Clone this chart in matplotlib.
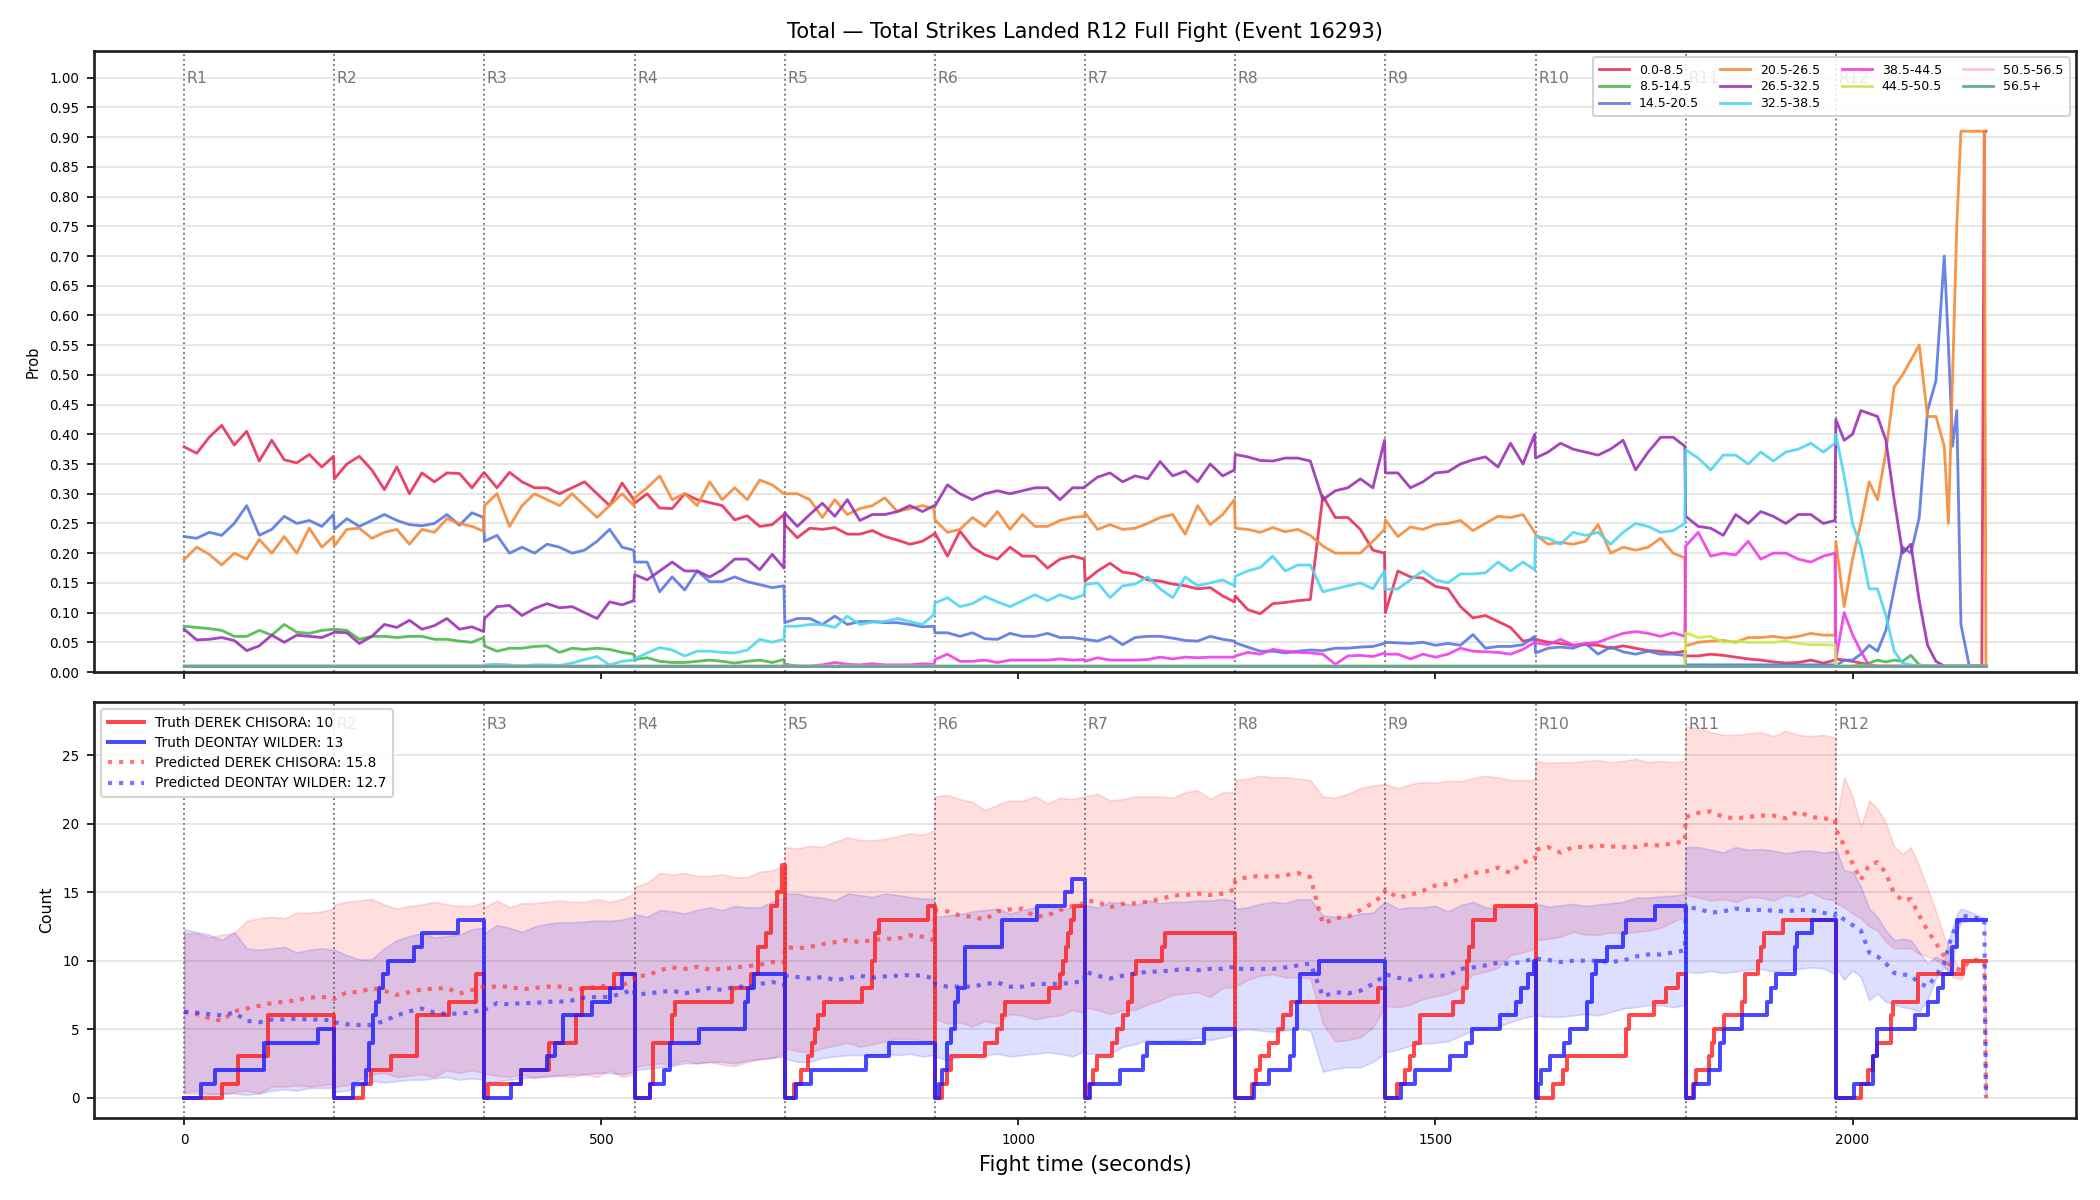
import numpy as np
import matplotlib
matplotlib.use("Agg")
import matplotlib.pyplot as plt
import matplotlib.transforms as mtransforms

# ---------------- time grid ----------------
ROUND_LEN = 180
round_offsets = [0, 15, 30, 45, 60, 75, 90, 105, 120, 135, 150, 165, 179]
r12_times = [1980, 1990, 2000, 2010, 2020, 2030, 2040, 2050, 2060, 2070, 2080, 2090,
             2100, 2110, 2115, 2120, 2125, 2130, 2140, 2150, 2155, 2158, 2160]
FIGHT_END = 2160

# ---------------- top panel: probability per bin (per round lists) ----------------
bin_labels = ["0.0-8.5", "8.5-14.5", "14.5-20.5", "20.5-26.5", "26.5-32.5",
              "32.5-38.5", "38.5-44.5", "44.5-50.5", "50.5-56.5", "56.5+"]
bin_colors = ["#e8305a", "#4cb84c", "#5a78e0", "#f58b3a", "#9b32b8",
              "#4fd6f2", "#f03ee8", "#c4ec50", "#f8c3d6", "#5a9f98"]

p_0_8 = [
    [0.379, 0.368, 0.395, 0.415, 0.382, 0.405, 0.355, 0.39, 0.357, 0.352, 0.366, 0.345, 0.363],
    [0.325, 0.35, 0.363, 0.34, 0.307, 0.345, 0.30, 0.335, 0.32, 0.335, 0.334, 0.31, 0.335],
    [0.335, 0.31, 0.336, 0.32, 0.31, 0.31, 0.30, 0.31, 0.32, 0.30, 0.28, 0.318, 0.29],
    [0.284, 0.30, 0.276, 0.275, 0.30, 0.29, 0.285, 0.28, 0.256, 0.263, 0.245, 0.248, 0.265],
    [0.248, 0.226, 0.242, 0.24, 0.243, 0.232, 0.232, 0.238, 0.228, 0.222, 0.215, 0.22, 0.232],
    [0.234, 0.195, 0.237, 0.21, 0.197, 0.19, 0.21, 0.195, 0.195, 0.175, 0.19, 0.195, 0.19],
    [0.153, 0.17, 0.183, 0.168, 0.165, 0.155, 0.153, 0.148, 0.145, 0.14, 0.142, 0.128, 0.118],
    [0.128, 0.105, 0.098, 0.115, 0.117, 0.12, 0.122, 0.296, 0.26, 0.26, 0.24, 0.205, 0.20],
    [0.10, 0.17, 0.16, 0.158, 0.144, 0.14, 0.11, 0.091, 0.095, 0.085, 0.075, 0.052, 0.055],
    [0.055, 0.05, 0.048, 0.045, 0.046, 0.045, 0.04, 0.044, 0.04, 0.036, 0.035, 0.032, 0.035],
    [0.027, 0.027, 0.03, 0.028, 0.025, 0.022, 0.02, 0.017, 0.015, 0.016, 0.02, 0.015, 0.02],
    [0.022, 0.02, 0.018, 0.015, 0.012, 0.01, 0.01, 0.01, 0.01, 0.01, 0.01, 0.01, 0.01, 0.01,
     0.01, 0.01, 0.01, 0.01, 0.01, 0.01, 0.01, 0.91, 0.91],
]
p_8_14 = [
    [0.077, 0.075, 0.073, 0.07, 0.06, 0.06, 0.07, 0.062, 0.08, 0.067, 0.065, 0.07, 0.072],
    [0.072, 0.07, 0.055, 0.06, 0.06, 0.058, 0.06, 0.06, 0.055, 0.055, 0.052, 0.05, 0.058],
    [0.044, 0.035, 0.04, 0.04, 0.043, 0.044, 0.033, 0.04, 0.038, 0.04, 0.038, 0.033, 0.03],
    [0.021, 0.024, 0.018, 0.016, 0.016, 0.018, 0.02, 0.018, 0.015, 0.018, 0.02, 0.016, 0.021],
    [0.013, 0.01, 0.01, 0.01, 0.01, 0.01, 0.01, 0.01, 0.01, 0.01, 0.01, 0.01, 0.01],
    [0.01] * 13, [0.01] * 13, [0.01] * 13, [0.01] * 13, [0.01] * 13, [0.01] * 13,
    [0.01, 0.01, 0.01, 0.012, 0.015, 0.02, 0.017, 0.02, 0.018, 0.028, 0.012, 0.01, 0.01,
     0.01, 0.01, 0.01, 0.01, 0.01, 0.01, 0.01, 0.01, 0.01, 0.01],
]
p_14_20 = [
    [0.228, 0.225, 0.235, 0.23, 0.25, 0.28, 0.23, 0.24, 0.262, 0.25, 0.255, 0.245, 0.265],
    [0.24, 0.258, 0.245, 0.255, 0.265, 0.255, 0.248, 0.246, 0.25, 0.265, 0.247, 0.268, 0.26],
    [0.22, 0.23, 0.20, 0.21, 0.20, 0.215, 0.21, 0.20, 0.205, 0.22, 0.24, 0.21, 0.205],
    [0.185, 0.185, 0.135, 0.16, 0.138, 0.17, 0.152, 0.152, 0.16, 0.152, 0.147, 0.142, 0.145],
    [0.083, 0.09, 0.09, 0.08, 0.094, 0.08, 0.085, 0.085, 0.083, 0.083, 0.08, 0.076, 0.077],
    [0.066, 0.066, 0.06, 0.066, 0.056, 0.055, 0.065, 0.06, 0.06, 0.065, 0.058, 0.058, 0.055],
    [0.055, 0.052, 0.06, 0.046, 0.058, 0.06, 0.06, 0.057, 0.053, 0.052, 0.06, 0.055, 0.052],
    [0.049, 0.042, 0.035, 0.035, 0.032, 0.035, 0.037, 0.036, 0.04, 0.04, 0.042, 0.043, 0.048],
    [0.05, 0.049, 0.048, 0.05, 0.045, 0.048, 0.045, 0.063, 0.04, 0.043, 0.043, 0.046, 0.06],
    [0.032, 0.04, 0.042, 0.04, 0.048, 0.03, 0.042, 0.034, 0.03, 0.035, 0.03, 0.03, 0.028],
    [0.012] * 13,
    [0.01, 0.02, 0.02, 0.03, 0.045, 0.035, 0.07, 0.14, 0.21, 0.20, 0.26, 0.44, 0.49, 0.70,
     0.55, 0.38, 0.44, 0.08, 0.01, 0.01, 0.01, 0.01, 0.01],
]
p_20_26 = [
    [0.189, 0.21, 0.198, 0.18, 0.2, 0.19, 0.223, 0.20, 0.228, 0.20, 0.242, 0.21, 0.228],
    [0.212, 0.24, 0.242, 0.225, 0.235, 0.24, 0.215, 0.24, 0.235, 0.258, 0.25, 0.245, 0.237],
    [0.28, 0.30, 0.245, 0.28, 0.30, 0.29, 0.28, 0.30, 0.28, 0.26, 0.28, 0.30, 0.28],
    [0.293, 0.31, 0.33, 0.29, 0.30, 0.28, 0.32, 0.29, 0.31, 0.29, 0.323, 0.315, 0.30],
    [0.30, 0.30, 0.29, 0.26, 0.29, 0.265, 0.275, 0.28, 0.293, 0.27, 0.275, 0.28, 0.275],
    [0.256, 0.235, 0.24, 0.26, 0.245, 0.27, 0.24, 0.265, 0.245, 0.245, 0.255, 0.26, 0.262],
    [0.268, 0.24, 0.248, 0.24, 0.242, 0.25, 0.26, 0.265, 0.232, 0.28, 0.248, 0.265, 0.29],
    [0.242, 0.24, 0.235, 0.243, 0.236, 0.24, 0.23, 0.212, 0.20, 0.20, 0.20, 0.22, 0.24],
    [0.256, 0.228, 0.244, 0.24, 0.248, 0.25, 0.255, 0.238, 0.25, 0.262, 0.26, 0.265, 0.235],
    [0.231, 0.215, 0.218, 0.215, 0.22, 0.248, 0.2, 0.21, 0.205, 0.21, 0.225, 0.2, 0.192],
    [0.044, 0.05, 0.052, 0.053, 0.05, 0.058, 0.058, 0.06, 0.057, 0.06, 0.065, 0.062, 0.062],
    [0.22, 0.11, 0.19, 0.25, 0.32, 0.29, 0.37, 0.48, 0.50, 0.525, 0.55, 0.43, 0.43, 0.38,
     0.25, 0.50, 0.75, 0.91, 0.91, 0.91, 0.91, 0.91, 0.01],
]
p_26_32 = [
    [0.072, 0.054, 0.055, 0.058, 0.053, 0.036, 0.044, 0.062, 0.05, 0.062, 0.06, 0.058, 0.066],
    [0.067, 0.066, 0.048, 0.06, 0.08, 0.075, 0.087, 0.072, 0.078, 0.09, 0.072, 0.076, 0.068],
    [0.09, 0.11, 0.112, 0.095, 0.107, 0.115, 0.108, 0.11, 0.10, 0.09, 0.118, 0.113, 0.12],
    [0.164, 0.155, 0.17, 0.185, 0.17, 0.17, 0.16, 0.172, 0.19, 0.19, 0.172, 0.198, 0.175],
    [0.268, 0.245, 0.265, 0.284, 0.262, 0.29, 0.255, 0.265, 0.265, 0.27, 0.28, 0.27, 0.28],
    [0.279, 0.315, 0.30, 0.29, 0.30, 0.305, 0.30, 0.305, 0.31, 0.31, 0.29, 0.31, 0.31],
    [0.312, 0.328, 0.335, 0.32, 0.33, 0.325, 0.354, 0.33, 0.338, 0.32, 0.35, 0.33, 0.34],
    [0.366, 0.362, 0.356, 0.355, 0.36, 0.36, 0.355, 0.29, 0.305, 0.31, 0.325, 0.31, 0.39],
    [0.335, 0.335, 0.31, 0.32, 0.335, 0.337, 0.35, 0.357, 0.362, 0.345, 0.385, 0.35, 0.40],
    [0.36, 0.37, 0.385, 0.375, 0.37, 0.365, 0.375, 0.39, 0.34, 0.37, 0.395, 0.395, 0.38],
    [0.262, 0.245, 0.242, 0.23, 0.265, 0.25, 0.27, 0.262, 0.25, 0.265, 0.265, 0.25, 0.255],
    [0.425, 0.39, 0.40, 0.44, 0.435, 0.43, 0.39, 0.29, 0.20, 0.215, 0.12, 0.045, 0.018,
     0.01, 0.01, 0.01, 0.01, 0.01, 0.01, 0.01, 0.01, 0.01, 0.01],
]
p_32_38 = [
    [0.01] * 13, [0.01] * 13,
    [0.012, 0.013, 0.012, 0.01, 0.012, 0.012, 0.011, 0.015, 0.021, 0.026, 0.012, 0.018, 0.02],
    [0.022, 0.032, 0.041, 0.037, 0.027, 0.035, 0.035, 0.033, 0.032, 0.037, 0.055, 0.05, 0.055],
    [0.077, 0.077, 0.08, 0.08, 0.075, 0.094, 0.08, 0.084, 0.085, 0.09, 0.085, 0.08, 0.097],
    [0.116, 0.125, 0.11, 0.115, 0.127, 0.118, 0.11, 0.12, 0.13, 0.12, 0.13, 0.123, 0.13],
    [0.147, 0.15, 0.125, 0.145, 0.148, 0.16, 0.14, 0.125, 0.16, 0.145, 0.15, 0.155, 0.145],
    [0.161, 0.17, 0.176, 0.195, 0.17, 0.18, 0.18, 0.135, 0.14, 0.145, 0.15, 0.14, 0.17],
    [0.139, 0.14, 0.155, 0.17, 0.155, 0.15, 0.165, 0.165, 0.167, 0.185, 0.17, 0.185, 0.172],
    [0.228, 0.225, 0.215, 0.235, 0.23, 0.235, 0.215, 0.235, 0.25, 0.245, 0.235, 0.238, 0.25],
    [0.374, 0.36, 0.34, 0.365, 0.365, 0.35, 0.37, 0.355, 0.37, 0.375, 0.385, 0.37, 0.385],
    [0.40, 0.33, 0.25, 0.21, 0.14, 0.14, 0.095, 0.035, 0.015, 0.012, 0.01, 0.01, 0.01,
     0.01, 0.01, 0.01, 0.01, 0.01, 0.01, 0.01, 0.01, 0.01, 0.01],
]
p_38_44 = [
    [0.01] * 13, [0.01] * 13, [0.01] * 13, [0.01] * 13,
    [0.012, 0.01, 0.01, 0.012, 0.016, 0.013, 0.012, 0.014, 0.012, 0.012, 0.012, 0.014, 0.013],
    [0.021, 0.03, 0.018, 0.018, 0.02, 0.016, 0.02, 0.02, 0.02, 0.02, 0.022, 0.02, 0.021],
    [0.018, 0.024, 0.02, 0.02, 0.02, 0.021, 0.025, 0.022, 0.025, 0.024, 0.025, 0.025, 0.025],
    [0.027, 0.033, 0.03, 0.038, 0.035, 0.033, 0.032, 0.03, 0.013, 0.027, 0.028, 0.026, 0.032],
    [0.03, 0.03, 0.022, 0.03, 0.025, 0.03, 0.04, 0.035, 0.034, 0.033, 0.03, 0.038, 0.05],
    [0.049, 0.046, 0.055, 0.045, 0.048, 0.05, 0.058, 0.065, 0.068, 0.065, 0.06, 0.066, 0.06],
    [0.212, 0.235, 0.195, 0.2, 0.197, 0.22, 0.19, 0.2, 0.2, 0.19, 0.185, 0.195, 0.2],
    [0.02, 0.10, 0.063, 0.035, 0.01, 0.01, 0.01, 0.01, 0.01, 0.01, 0.01, 0.01, 0.01, 0.01,
     0.01, 0.01, 0.01, 0.01, 0.01, 0.01, 0.01, 0.01, 0.01],
]
p_44_50 = [
    [0.01] * 13, [0.01] * 13, [0.01] * 13, [0.01] * 13, [0.01] * 13, [0.01] * 13,
    [0.01] * 13, [0.01] * 13, [0.01] * 13, [0.01] * 13,
    [0.066, 0.058, 0.06, 0.05, 0.052, 0.05, 0.05, 0.05, 0.052, 0.048, 0.046, 0.046, 0.045],
    [0.01] * 23,
]
p_50_56 = [[0.01] * 13] * 11 + [[0.01] * 23]
p_56_plus = [[0.01] * 13] * 11 + [[0.01] * 23]

# ---------------- bottom panel ----------------
chisora_truth_steps = [
    [(0, 0), (45, 1), (64, 3), (100, 6)],
    [(0, 0), (34, 1), (44, 2), (68, 3), (99, 6), (138, 7), (170, 9)],
    [(0, 0), (4, 1), (44, 2), (77, 4), (110, 6), (117, 8), (155, 9)],
    [(0, 0), (18, 1), (22, 4), (45, 6), (49, 7), (117, 8), (140, 9), (148, 11), (157, 12),
     (164, 14), (171, 15), (177, 17)],
    [(0, 0), (11, 1), (19, 2), (28, 3), (33, 4), (36, 5), (40, 6), (47, 7), (92, 8), (105, 10),
     (108, 12), (113, 13), (172, 14)],
    [(0, 0), (9, 1), (14, 2), (19, 3), (60, 4), (75, 5), (80, 6), (84, 7), (137, 8), (150, 9),
     (154, 10), (157, 11), (160, 12), (163, 13), (167, 14)],
    [(0, 0), (5, 1), (9, 2), (14, 3), (32, 4), (38, 5), (46, 6), (52, 7), (56, 9), (61, 10),
     (92, 11), (96, 12)],
    [(0, 0), (20, 1), (25, 2), (30, 3), (41, 4), (51, 5), (57, 6), (67, 7), (171, 8)],
    [(0, 0), (14, 1), (24, 2), (29, 3), (34, 4), (41, 6), (81, 7), (93, 8), (98, 10), (100, 11),
     (105, 13), (131, 14)],
    [(0, 0), (21, 1), (33, 2), (38, 3), (109, 5), (112, 6), (142, 7), (156, 8), (171, 9)],
    [(0, 0), (9, 1), (12, 2), (28, 3), (31, 4), (34, 5), (46, 6), (68, 7), (71, 9), (87, 10),
     (90, 11), (94, 12), (117, 13)],
    [(0, 0), (30, 1), (38, 2), (45, 3), (49, 4), (66, 6), (69, 7), (99, 9), (153, 10)],
]
wilder_truth_steps = [
    [(0, 0), (20, 1), (37, 2), (96, 4), (160, 5)],
    [(0, 0), (22, 1), (38, 2), (42, 4), (46, 6), (50, 7), (53, 8), (58, 9), (64, 10), (96, 11),
     (105, 12), (148, 13)],
    [(0, 0), (32, 1), (44, 2), (75, 3), (84, 4), (94, 6), (129, 7), (150, 8), (165, 9)],
    [(0, 0), (18, 1), (35, 2), (42, 4), (77, 5), (132, 7), (136, 8), (143, 9)],
    [(0, 0), (14, 1), (31, 2), (97, 3), (125, 4)],
    [(0, 0), (5, 1), (9, 2), (14, 4), (19, 5), (24, 7), (28, 8), (36, 11), (80, 13), (122, 14),
     (156, 15), (164, 16)],
    [(0, 0), (6, 1), (42, 2), (70, 3), (74, 4), (143, 5)],
    [(0, 0), (22, 1), (40, 2), (66, 3), (70, 5), (74, 7), (78, 9), (101, 10)],
    [(0, 0), (19, 1), (36, 2), (77, 3), (97, 4), (104, 5), (137, 6), (156, 7), (163, 8),
     (171, 9), (178, 10)],
    [(0, 0), (3, 1), (7, 2), (17, 3), (34, 4), (41, 5), (62, 7), (68, 9), (72, 10), (86, 11),
     (105, 12), (108, 13), (143, 14)],
    [(0, 0), (10, 1), (28, 2), (41, 4), (46, 5), (67, 6), (97, 7), (102, 8), (108, 9), (131, 11),
     (134, 12), (152, 13)],
    [(0, 0), (22, 1), (45, 3), (49, 5), (95, 6), (110, 7), (122, 8), (128, 9), (139, 11),
     (145, 13)],
]

chisora_pred = [
    [6.26, 6.1, 5.8, 5.6, 6.3, 6.5, 6.7, 6.9, 7.0, 7.1, 7.3, 7.35, 7.3],
    [7.2, 7.7, 7.7, 8.0, 7.8, 7.5, 7.7, 7.9, 7.95, 8.0, 7.6, 7.85, 8.1],
    [8.1, 8.1, 8.1, 7.9, 8.0, 8.1, 8.1, 7.9, 7.95, 8.1, 8.2, 8.2, 8.6],
    [8.9, 8.9, 9.3, 9.5, 9.4, 9.55, 9.35, 9.4, 9.5, 9.6, 9.7, 9.9, 9.85],
    [11.0, 10.9, 11.0, 11.2, 11.35, 11.5, 11.35, 11.5, 11.6, 11.6, 11.85, 11.75, 11.5],
    [13.7, 13.6, 13.3, 13.2, 13.0, 13.6, 13.75, 13.8, 13.2, 13.3, 13.7, 14.0, 14.2],
    [14.4, 14.3, 13.9, 14.15, 14.2, 14.3, 14.5, 14.75, 14.8, 14.9, 14.8, 14.9, 15.2],
    [15.9, 16.1, 16.2, 16.1, 16.25, 16.4, 16.1, 12.7, 13.1, 13.2, 13.7, 14.2, 14.9],
    [15.2, 14.6, 14.8, 15.1, 15.5, 15.6, 16.0, 16.4, 16.5, 16.8, 16.4, 17.2, 17.4],
    [18.1, 18.3, 17.9, 18.3, 18.3, 18.4, 18.35, 18.3, 18.3, 18.5, 18.4, 18.6, 18.7],
    [20.5, 20.8, 20.9, 20.5, 20.4, 20.5, 20.6, 20.6, 20.4, 20.9, 20.5, 20.4, 20.3],
    [19.6, 18.4, 17.1, 15.9, 17.0, 17.2, 16.4, 14.9, 14.4, 14.5, 13.3, 12.2, 11.3, 10.3, 9.8,
     9.5, 9.4, 9.3, 10.0, 10.05, 10.05, 9.9, 0.0],
]
wilder_pred = [
    [6.26, 6.2, 6.1, 6.0, 6.2, 5.6, 5.5, 5.7, 5.7, 5.75, 5.7, 5.7, 5.6],
    [5.5, 5.35, 5.3, 5.3, 5.6, 6.0, 6.3, 6.5, 6.2, 6.1, 6.15, 6.2, 6.5],
    [6.4, 6.9, 6.8, 6.9, 6.9, 7.0, 7.0, 7.1, 7.3, 7.35, 7.35, 7.6, 7.9],
    [7.5, 7.6, 7.7, 7.8, 7.6, 7.8, 8.0, 7.85, 8.1, 8.1, 8.3, 8.45, 8.2],
    [8.9, 8.8, 8.7, 8.8, 8.6, 8.7, 8.9, 8.75, 8.85, 8.9, 8.95, 8.9, 8.7],
    [8.3, 8.1, 8.1, 8.1, 8.3, 8.4, 8.1, 8.1, 8.3, 8.3, 8.3, 8.4, 8.5],
    [9.2, 8.9, 8.7, 8.9, 9.05, 9.2, 9.2, 9.3, 9.4, 9.3, 9.4, 9.4, 9.55],
    [9.4, 9.4, 9.4, 9.4, 9.5, 9.65, 9.8, 7.4, 7.7, 7.6, 7.8, 8.3, 8.9],
    [9.0, 8.75, 8.6, 8.9, 8.9, 8.9, 9.4, 9.5, 9.65, 9.85, 9.75, 9.95, 10.15],
    [10.15, 10.05, 9.9, 10.0, 10.0, 10.0, 9.9, 10.0, 10.3, 10.45, 10.45, 10.6, 10.75],
    [13.9, 13.8, 13.5, 13.6, 13.8, 13.7, 13.7, 13.65, 13.6, 13.7, 13.7, 13.5, 13.3],
    [13.45, 13.0, 12.6, 12.2, 10.6, 10.3, 9.8, 9.1, 9.0, 8.9, 8.35, 8.1, 8.9, 9.8, 11.0,
     12.0, 12.5, 13.3, 13.2, 13.1, 13.1, 13.0, 0.0],
]
chisora_hi = [
    [12.0, 12.0, 11.7, 11.9, 12.0, 12.9, 13.1, 13.2, 13.1, 13.5, 13.5, 13.6, 13.8],
    [14.1, 14.3, 14.4, 14.5, 14.1, 13.8, 14.0, 14.1, 14.3, 14.1, 14.0, 14.0, 14.3],
    [13.9, 14.4, 13.9, 14.2, 14.2, 14.3, 14.4, 14.3, 14.3, 14.5, 14.3, 14.5, 14.9],
    [15.4, 15.7, 16.4, 16.3, 16.4, 16.2, 16.2, 16.3, 16.1, 16.1, 16.5, 16.6, 16.9],
    [18.3, 18.2, 18.4, 18.3, 18.7, 19.0, 18.8, 18.8, 18.9, 19.1, 19.3, 19.2, 19.5],
    [22.0, 22.1, 21.8, 21.6, 21.0, 21.4, 21.7, 21.7, 22.0, 21.5, 21.9, 21.8, 22.0],
    [22.0, 22.2, 21.7, 21.8, 22.0, 22.0, 22.0, 21.9, 22.3, 22.45, 21.8, 22.3, 22.3],
    [23.2, 23.3, 23.5, 23.4, 23.4, 23.3, 23.2, 22.0, 21.9, 22.2, 22.6, 22.8, 22.9],
    [22.9, 22.6, 22.9, 23.05, 23.0, 23.15, 23.1, 23.35, 23.5, 23.4, 23.2, 23.2, 23.2],
    [24.6, 24.45, 24.5, 24.5, 24.6, 24.65, 24.5, 24.6, 24.75, 24.5, 24.6, 24.5, 24.6],
    [27.1, 27.0, 26.7, 26.5, 26.5, 26.6, 26.7, 26.4, 26.8, 26.5, 26.4, 26.5, 26.3],
    [20.0, 23.4, 22.0, 19.8, 21.7, 21.1, 20.1, 18.3, 17.8, 18.3, 16.9, 15.3, 13.6, 11.75,
     11.0, 10.3, 9.7, 9.35, 10.0, 10.05, 10.05, 9.9, 0.0],
]
chisora_lo = [
    [0.4, 0.5, 0.3, 0.2, 0.4, 0.5, 0.3, 0.8, 0.8, 0.9, 0.8, 0.9, 1.0],
    [0.8, 0.9, 1.3, 1.7, 1.8, 1.5, 1.6, 1.7, 1.5, 2.0, 1.8, 2.0, 1.8],
    [1.75, 1.6, 1.5, 1.7, 1.4, 1.6, 1.6, 1.5, 1.7, 1.5, 2.0, 1.5, 1.7],
    [2.2, 2.4, 2.5, 2.4, 2.7, 2.5, 2.6, 2.4, 2.3, 2.6, 2.8, 2.9, 3.2],
    [3.6, 3.4, 3.3, 3.6, 3.8, 4.0, 3.7, 3.9, 4.1, 4.3, 4.3, 4.2, 4.1],
    [5.8, 5.4, 5.5, 5.2, 5.6, 5.4, 6.1, 6.0, 5.7, 5.9, 6.0, 6.4, 6.2],
    [6.6, 6.4, 6.1, 6.4, 6.4, 6.8, 7.1, 7.5, 7.6, 7.7, 7.35, 8.0, 8.1],
    [8.1, 8.6, 8.9, 9.0, 8.8, 8.8, 8.7, 5.4, 4.1, 4.2, 4.4, 5.1, 6.6],
    [6.7, 6.6, 6.8, 7.2, 7.4, 7.6, 8.0, 9.0, 9.2, 9.5, 10.4, 10.6, 10.9],
    [11.5, 11.6, 11.75, 12.1, 11.9, 11.9, 12.05, 12.0, 12.1, 12.2, 12.4, 12.85, 13.2],
    [14.8, 14.6, 14.4, 14.5, 14.3, 14.65, 14.6, 14.4, 14.8, 14.65, 15.0, 14.55, 14.4],
    [14.2, 13.9, 13.45, 13.1, 12.5, 12.2, 11.4, 10.9, 10.9, 10.9, 10.5, 10.3, 10.05, 9.6,
     9.2, 8.8, 8.7, 8.6, 10.0, 10.05, 10.05, 9.9, 0.0],
]
wilder_hi = [
    [12.3, 12.1, 11.9, 11.5, 12.1, 10.9, 10.8, 10.9, 11.0, 10.6, 10.8, 10.9, 10.8],
    [10.8, 10.4, 10.1, 10.1, 10.9, 11.5, 11.8, 12.0, 11.7, 11.8, 11.9, 12.3, 12.4],
    [12.0, 12.6, 12.4, 12.1, 12.5, 12.7, 12.8, 12.8, 12.85, 12.95, 12.9, 13.0, 13.2],
    [13.4, 13.2, 13.7, 13.6, 13.45, 13.7, 13.9, 13.7, 14.0, 13.9, 13.9, 14.3, 14.6],
    [14.9, 14.9, 14.7, 14.6, 14.4, 14.9, 14.8, 14.65, 14.9, 14.8, 14.65, 14.55, 14.5],
    [13.2, 13.3, 13.4, 13.6, 13.7, 13.8, 13.45, 13.7, 13.9, 14.05, 13.7, 13.9, 14.05],
    [14.05, 13.9, 14.3, 14.2, 14.05, 14.4, 14.2, 14.3, 14.3, 14.4, 14.4, 14.5, 14.4],
    [13.8, 13.9, 14.15, 14.3, 14.2, 14.5, 14.5, 13.3, 13.2, 13.2, 13.45, 13.5, 14.3],
    [14.3, 13.8, 13.9, 13.9, 14.0, 13.6, 14.05, 14.3, 13.9, 13.8, 14.05, 13.95, 14.2],
    [14.2, 13.95, 14.05, 14.15, 14.0, 14.1, 14.2, 14.3, 14.6, 14.6, 14.7, 14.75, 14.9],
    [18.3, 18.3, 18.1, 17.9, 18.3, 18.1, 18.15, 18.05, 17.85, 18.0, 18.05, 17.9, 18.0],
    [18.2, 16.6, 16.5, 15.4, 13.8, 13.2, 12.2, 11.5, 11.6, 11.5, 10.65, 9.8, 10.3, 10.0,
     11.4, 12.4, 13.4, 13.8, 13.6, 13.3, 13.2, 13.1, 0.0],
]
wilder_lo = [
    [0.3, 0.3, 0.2, 0.3, 0.3, 0.2, 0.3, 0.5, 0.6, 0.5, 0.7, 0.7, 0.7],
    [0.4, 0.5, 0.9, 1.2, 1.1, 1.2, 1.3, 1.3, 1.4, 1.5, 1.3, 1.4, 1.3],
    [1.1, 1.2, 1.3, 1.4, 1.5, 1.5, 1.6, 1.7, 1.7, 1.8, 1.8, 1.7, 1.9],
    [2.0, 2.1, 2.2, 2.3, 2.5, 2.5, 2.6, 2.6, 2.5, 2.7, 2.8, 2.9, 3.0],
    [2.85, 2.6, 2.6, 2.9, 3.0, 3.1, 3.1, 3.1, 3.2, 3.1, 3.2, 3.0, 3.1],
    [3.0, 2.7, 3.0, 3.0, 3.1, 3.2, 3.0, 3.1, 3.2, 3.3, 3.2, 3.0, 3.4],
    [3.2, 3.2, 3.2, 3.7, 3.9, 4.2, 4.1, 4.2, 4.2, 4.4, 4.2, 4.4, 4.6],
    [4.9, 5.0, 4.9, 4.8, 4.9, 5.05, 4.9, 1.9, 2.1, 2.2, 2.2, 2.6, 3.2],
    [3.3, 3.5, 3.8, 3.95, 4.0, 4.1, 4.5, 4.9, 5.0, 5.2, 5.5, 5.8, 6.0],
    [6.0, 5.9, 5.9, 6.0, 6.1, 6.0, 6.25, 6.5, 6.6, 6.75, 6.75, 6.6, 6.75],
    [9.2, 9.1, 9.25, 9.1, 9.2, 9.35, 9.4, 9.2, 9.3, 9.4, 9.5, 9.45, 9.0],
    [9.55, 8.6, 9.3, 8.8, 7.1, 7.6, 7.0, 6.8, 6.6, 6.5, 6.3, 7.1, 8.7, 9.5, 9.2, 9.55, 12.0,
     12.8, 12.9, 12.95, 12.95, 12.9, 0.0],
]

legend_truth_red = "Truth DEREK CHISORA: 10"
legend_truth_blue = "Truth DEONTAY WILDER: 13"
legend_pred_red = "Predicted DEREK CHISORA: 15.8"
legend_pred_blue = "Predicted DEONTAY WILDER: 12.7"
title_text = "Total \u2014 Total Strikes Landed R12 Full Fight (Event 16293)"

# ---------------- helpers ----------------
times = np.array([r * ROUND_LEN + o for r in range(11) for o in round_offsets] + r12_times,
                 dtype=float)


def flat(per_round):
    out = [v for rnd in per_round for v in rnd]
    assert len(out) == len(times), (len(out), len(times))
    return np.array(out, dtype=float)


def steps_xy(per_round):
    xs, ys = [], []
    for r, steps in enumerate(per_round):
        for off, n in steps:
            xs.append(r * ROUND_LEN + off)
            ys.append(n)
    xs.append(FIGHT_END)
    ys.append(ys[-1])
    return np.array(xs, float), np.array(ys, float)


# ---------------- figure ----------------
plt.rcParams["font.family"] = ["DejaVu Sans"]
fig = plt.figure(figsize=(14, 8), dpi=150)
ax1 = fig.add_axes([0.0448, 0.440, 0.9438, 0.5175])
ax2 = fig.add_axes([0.0448, 0.0683, 0.9438, 0.3467], sharex=ax1)

for ax in (ax1, ax2):
    ax.set_axisbelow(True)
    ax.grid(axis="y", color="#e3e3e3", linewidth=0.8)
    ax.grid(axis="x", visible=False)
    for s in ax.spines.values():
        s.set_linewidth(1.3)
        s.set_color("#222222")
    ax.tick_params(axis="both", labelsize=6.5, length=3.5, width=0.9, color="#222222")

# top panel
series_top = [p_0_8, p_8_14, p_14_20, p_20_26, p_26_32, p_32_38, p_38_44, p_44_50,
              p_50_56, p_56_plus]
for lab, ser, col in zip(bin_labels, series_top, bin_colors):
    ax1.plot(times, flat(ser), color=col, lw=1.35, alpha=0.9, label=lab)

ax1.set_ylim(0, 1.045)
ax1.set_yticks(np.round(np.arange(0, 1.0001, 0.05), 2))
ax1.set_yticklabels([f"{v:.2f}" for v in np.arange(0, 1.0001, 0.05)])
ax1.set_ylabel("Prob", fontsize=7)
ax1.set_title(title_text, fontsize=10, pad=6)
plt.setp(ax1.get_xticklabels(), visible=False)
leg1 = ax1.legend(loc="upper right", ncol=4, fontsize=6.0, framealpha=0.85,
                  handlelength=2.4, columnspacing=1.7, borderpad=0.5, labelspacing=0.3)
leg1.get_frame().set_edgecolor("#cccccc")

# bottom panel
ax2.fill_between(times, flat(chisora_lo), flat(chisora_hi), color="red", alpha=0.13,
                 linewidth=0.8)
ax2.fill_between(times, flat(wilder_lo), flat(wilder_hi), color="blue", alpha=0.13,
                 linewidth=0.8)
xr, yr = steps_xy(chisora_truth_steps)
xb, yb = steps_xy(wilder_truth_steps)
ax2.plot(xr, yr, drawstyle="steps-post", color="#ff1a1a", lw=1.9, alpha=0.8,
         label=legend_truth_red)
ax2.plot(xb, yb, drawstyle="steps-post", color="#1a1aff", lw=1.9, alpha=0.8,
         label=legend_truth_blue)
ax2.plot(times, flat(chisora_pred), ls=":", color="#ff3030", lw=2.0, alpha=0.65,
         label=legend_pred_red)
ax2.plot(times, flat(wilder_pred), ls=":", color="#3030ff", lw=2.0, alpha=0.65,
         label=legend_pred_blue)
ax2.set_ylim(-1.5, 28.9)
ax2.set_yticks([0, 5, 10, 15, 20, 25])
ax2.set_ylabel("Count", fontsize=7.5)
ax2.set_xlabel("Fight time (seconds)", fontsize=10)
ax2.set_xlim(-108, 2268)
ax2.set_xticks([0, 500, 1000, 1500, 2000])
leg2 = ax2.legend(loc="upper left", fontsize=6.6, framealpha=0.85, handlelength=2.6,
                  borderpad=0.5, labelspacing=0.45)
leg2.get_frame().set_edgecolor("#cccccc")

# round markers
for ax, ytxt in ((ax1, 0.955), (ax2, 0.946)):
    trans = mtransforms.blended_transform_factory(ax.transData, ax.transAxes)
    for r in range(12):
        x0 = r * ROUND_LEN
        ax.axvline(x0, color="#555555", ls=":", lw=0.9, alpha=0.8, zorder=1)
        ax.text(x0 + 3, ytxt, f"R{r + 1}", transform=trans, fontsize=7.5, color="#777777",
                va="center", ha="left", zorder=1)

fig.savefig("out.png", dpi=150)
